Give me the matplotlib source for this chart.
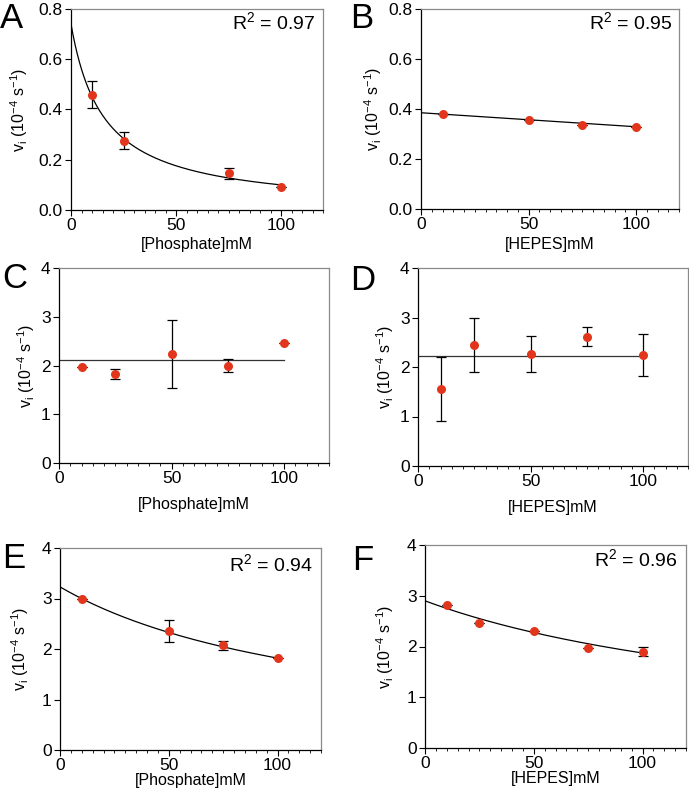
import matplotlib as mpl
mpl.use('Agg')
import matplotlib.pyplot as plt
import numpy as np
from matplotlib.ticker import MultipleLocator

plt.rcParams['font.family'] = ['Liberation Sans', 'DejaVu Sans']

# ---- data ----
# A: phosphate, fit v0/(1+x/K)
a_x = [10, 25, 75, 100]
a_y = [0.459, 0.276, 0.146, 0.093]
a_err = [0.053, 0.035, 0.022, 0.0]
a_fit = (0.74, 15.6)

# B: HEPES, linear fit
b_x = [10, 50, 75, 100]
b_y = [0.380, 0.356, 0.337, 0.329]
b_err = [0.0, 0.0, 0.0, 0.0]
b_fit = (0.385, -0.00056)

# C: phosphate, constant mean
c_x = [10, 25, 50, 75, 100]
c_y = [1.975, 1.83, 2.23, 2.00, 2.46]
c_err = [0.0, 0.10, 0.70, 0.14, 0.0]
c_mean = 2.12

# D: HEPES, constant mean
d_x = [10, 25, 50, 75, 100]
d_y = [1.556, 2.45, 2.26, 2.61, 2.24]
d_err = [0.65, 0.55, 0.37, 0.19, 0.42]
d_mean = 2.22

# E: phosphate, fit v0/(1+x/K)
e_x = [10, 50, 75, 100]
e_y = [3.00, 2.36, 2.07, 1.82]
e_err = [0.0, 0.22, 0.09, 0.0]
e_fit = (3.23, 129.0)

# F: HEPES, fit v0/(1+x/K)
f_x = [10, 25, 50, 75, 100]
f_y = [2.81, 2.47, 2.31, 1.98, 1.90]
f_err = [0.0, 0.0, 0.0, 0.0, 0.09]
f_fit = (2.90, 182.0)

W, H = 689, 793
fig = plt.figure(figsize=(W/100, H/100), dpi=100)

def make_ax(l, r, t, b):
  return fig.add_axes([l/W, 1-b/H, (r-l)/W, (b-t)/H])

red = '#e2361c'
ylab = r'v$_\mathregular{i}$ (10$^\mathregular{-4}$ s$^\mathregular{-1}$)'

def style(ax, ymax, ystep, xlabel, xpad, ypad):
  ax.set_xlim(0, 120)
  ax.set_ylim(0, ymax)
  ax.set_xticks([0, 50, 100])
  ax.xaxis.set_minor_locator(MultipleLocator(5))
  ax.set_yticks(np.arange(0, ymax + ystep/2, ystep))
  if ymax < 1:
    ax.set_yticklabels(['%.1f' % v for v in np.arange(0, ymax + ystep/2, ystep)])
  ax.tick_params(axis='both', which='major', labelsize=12.5, length=4, width=0.8, direction='out', pad=2)
  ax.tick_params(axis='x', which='minor', length=2.5, width=0.6, direction='out')
  for s in ['top', 'right']:
    ax.spines[s].set_color('#8a8a8a')
  for s in ax.spines.values():
    s.set_linewidth(0.9)
  ax.set_xlabel(xlabel, fontsize=11.5, labelpad=xpad)
  ax.set_ylabel(ylab, fontsize=11.5, labelpad=ypad)

def points(ax, x, y, err):
  ax.errorbar(x, y, yerr=err, fmt='none', ecolor='black', elinewidth=0.9, capsize=3.5, capthick=0.9, zorder=2)
  ax.plot(x, y, 'o', color=red, markersize=6.5, markeredgewidth=0, zorder=3)

xs = np.linspace(0, 100, 200)

# A
ax = make_ax(71, 323, 9, 210)
ax.plot(xs, a_fit[0]/(1 + xs/a_fit[1]), color='black', lw=0.9)
points(ax, a_x, a_y, a_err)
style(ax, 0.8, 0.2, '[Phosphate]mM', 3, 6)
ax.text(0.97, 0.93, r'R$^\mathregular{2}$ = 0.97', transform=ax.transAxes, ha='right', va='center', fontsize=14)

# B
ax = make_ax(421, 679, 9, 209)
ax.plot(xs, b_fit[0] + b_fit[1]*xs, color='black', lw=0.9)
points(ax, b_x, b_y, b_err)
style(ax, 0.8, 0.2, '[HEPES]mM', 3, 3)
ax.text(0.977, 0.93, r'R$^\mathregular{2}$ = 0.95', transform=ax.transAxes, ha='right', va='center', fontsize=14)

# C
ax = make_ax(59, 329, 268, 463)
ax.plot([0, 100], [c_mean, c_mean], color='#333333', lw=0.9)
points(ax, c_x, c_y, c_err)
style(ax, 4, 1, '[Phosphate]mM', 8, 3)

# D
ax = make_ax(418, 688, 268, 466)
ax.plot([0, 100], [d_mean, d_mean], color='#333333', lw=0.9)
points(ax, d_x, d_y, d_err)
style(ax, 4, 1, '[HEPES]mM', 8, 3)

# E
ax = make_ax(60, 321, 548, 750)
ax.plot(xs, e_fit[0]/(1 + xs/e_fit[1]), color='black', lw=0.9)
points(ax, e_x, e_y, e_err)
style(ax, 4, 1, '[Phosphate]mM', 0, 8)
ax.text(0.97, 0.916, r'R$^\mathregular{2}$ = 0.94', transform=ax.transAxes, ha='right', va='center', fontsize=14)

# F
ax = make_ax(425, 686, 545, 748)
ax.plot(xs, f_fit[0]/(1 + xs/f_fit[1]), color='black', lw=0.9)
points(ax, f_x, f_y, f_err)
style(ax, 4, 1, '[HEPES]mM', 0, 8)
ax.text(0.97, 0.926, r'R$^\mathregular{2}$ = 0.96', transform=ax.transAxes, ha='right', va='center', fontsize=14)

#---- panel letters ----
letters = [('A', 0, 2), ('B', 350, 2), ('C', 2, 262), ('D', 350, 264), ('E', 2, 542), ('F', 352, 544)]
for s, px, py in letters:
  fig.text(px/W, 1-py/H, s, fontsize=25, ha='left', va='top')

plt.savefig('out.png', dpi=100)
